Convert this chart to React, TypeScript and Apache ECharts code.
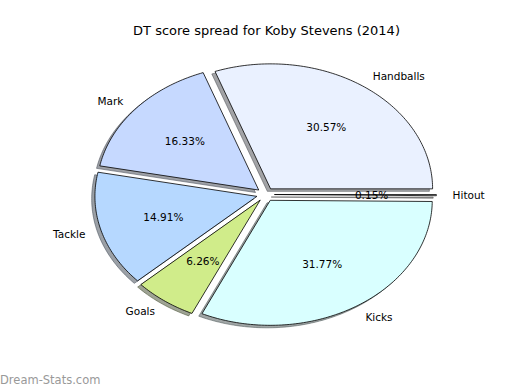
import React, { useEffect, useRef } from "react";
import * as echarts from "echarts";

const categories = ["Handballs", "Mark", "Tackle", "Goals", "Kicks", "Hitout"];
const percentages = [30.57, 16.33, 14.91, 6.26, 31.77, 0.15];
const sliceColors = ["#eaf1ff", "#c6d9ff", "#b6d8ff", "#d0ec8a", "#d9ffff", "#f0f0f0"];
const explode = [0.055, 0.055, 0.055, 0.055, 0.055, 0.055];
const titleText = "DT score spread for Koby Stevens (2014)";
const watermark = "Dream-Stats.com";

const CX = 265.5;
const CY = 194.5;
const RX = 162;
const RY = 125;
const FONT = "DejaVu Sans";

function hexToRgb(h: string) {
  const n = parseInt(h.slice(1), 16);
  return [(n >> 16) & 255, (n >> 8) & 255, n & 255];
}

function geometry(idx: number) {
  const total = percentages.reduce((a, b) => a + b, 0);
  let before = 0;
  for (let i = 0; i < idx; i++) before += percentages[i];
  const t1 = (before / total) * 360;
  const t2 = ((before + percentages[idx]) / total) * 360;
  const tm = ((t1 + t2) / 2) * Math.PI / 180;
  const e = explode[idx];
  const ox = CX + e * RX * Math.cos(tm);
  const oy = CY - e * RY * Math.sin(tm);
  return { t1, t2, tm, ox, oy };
}

function wedgePoints(idx: number, sx: number, sy: number) {
  const g = geometry(idx);
  const pts: number[][] = [[g.ox + sx, g.oy + sy]];
  const n = Math.max(2, Math.ceil((g.t2 - g.t1) / 1));
  for (let k = 0; k <= n; k++) {
    const t = (g.t1 + ((g.t2 - g.t1) * k) / n) * Math.PI / 180;
    pts.push([g.ox + sx + RX * Math.cos(t), g.oy + sy - RY * Math.sin(t)]);
  }
  return pts;
}

export default function App() {
  const ref = useRef<HTMLDivElement>(null);
  useEffect(() => {
    if (!ref.current) return;
    const chart = echarts.init(ref.current, null, { renderer: "svg" });
    const data = categories.map((c, i) => ({ name: c, value: percentages[i] }));
    chart.setOption({
      animation: false,
      backgroundColor: "#ffffff",
      graphic: [
        {
          type: "text",
          x: 266.5,
          y: 30,
          style: { text: titleText, fontSize: 13, fontFamily: FONT, fill: "#000", align: "center", verticalAlign: "middle" },
        },
        {
          type: "text",
          x: 0,
          y: 380,
          style: { text: watermark, fontSize: 11.5, fontFamily: FONT, fill: "#999999", align: "left", verticalAlign: "middle" },
        },
      ],
      series: [
        {
          type: "custom",
          coordinateSystem: "none",
          z: 1,
          data,
          renderItem: (params: any) => {
            const idx = params.dataIndex;
            const [r, g, b] = hexToRgb(sliceColors[idx]);
            const c = `rgba(${Math.round(r * 0.3)},${Math.round(g * 0.3)},${Math.round(b * 0.3)},0.5)`;
            return {
              type: "polygon",
              shape: { points: wedgePoints(idx, -0.02 * RX, 0.02 * RY) },
              style: { fill: c, stroke: c, lineWidth: 1 },
            };
          },
        },
        {
          type: "custom",
          coordinateSystem: "none",
          z: 2,
          data,
          renderItem: (params: any) => {
            const idx = params.dataIndex;
            const g = geometry(idx);
            const cos = Math.cos(g.tm);
            const sin = Math.sin(g.tm);
            const lx = g.ox + 1.1 * RX * cos;
            const ly = g.oy - 1.1 * RY * sin;
            const px = g.ox + 0.6 * RX * cos;
            const py = g.oy - 0.6 * RY * sin;
            return {
              type: "group",
              children: [
                {
                  type: "polygon",
                  shape: { points: wedgePoints(idx, 0, 0) },
                  style: { fill: sliceColors[idx], stroke: "#000", lineWidth: 0.8 },
                },
                {
                  type: "text",
                  x: lx,
                  y: ly,
                  style: {
                    text: categories[idx],
                    fontSize: 10.5,
                    fontFamily: FONT,
                    fill: "#000",
                    align: lx > CX ? "left" : "right",
                    verticalAlign: "middle",
                  },
                },
                {
                  type: "text",
                  x: px,
                  y: py,
                  z2: 10,
                  style: {
                    text: percentages[idx].toFixed(2) + "%",
                    fontSize: 10.5,
                    fontFamily: FONT,
                    fill: "#000",
                    align: "center",
                    verticalAlign: "middle",
                  },
                },
              ],
            };
          },
        },
      ],
    });
    return () => chart.dispose();
  }, []);
  return <div ref={ref} style={{ position: "fixed", left: 0, top: 0, width: 520, height: 390 }} />;
}
